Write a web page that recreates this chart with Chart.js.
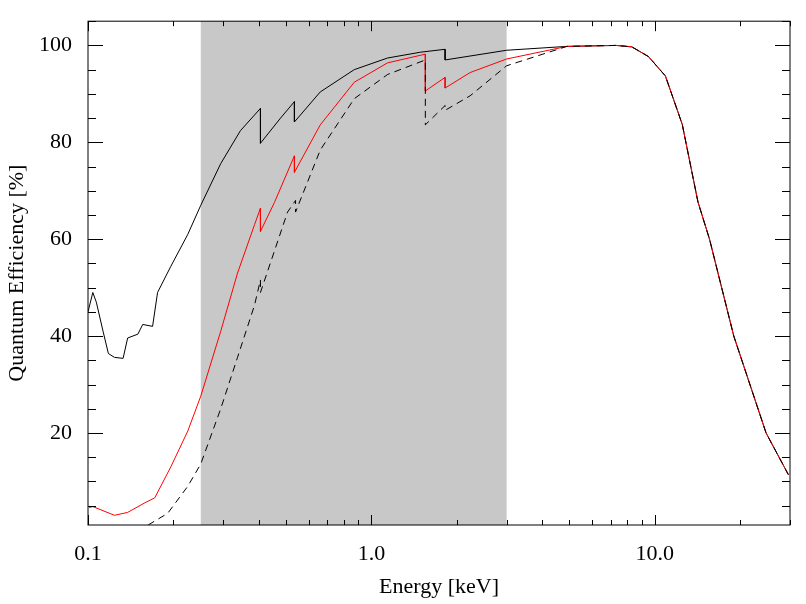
<!DOCTYPE html>
<html>
<head>
<meta charset="utf-8">
<script src="https://cdn.jsdelivr.net/npm/chart.js@4.4.1/dist/chart.umd.min.js"></script>
<style>body{margin:0;background:#fff}</style>
</head>
<body>
<canvas id="qe" width="806" height="604"></canvas>
<script>
// energies in keV, efficiencies in %
const tailE = [4.9, 7.3, 8.3, 9.5, 10.9, 12.5, 14.2, 15.6, 19.0, 24.7, 29.6];
const tailQ = [99.8, 100, 99.7, 97.7, 93.7, 83.7, 67.7, 60, 40, 20, 11.4];

const blackE = [0.1, 0.104, 0.107, 0.113, 0.118, 0.124, 0.133, 0.138, 0.15, 0.156, 0.169, 0.176, 0.196, 0.225, 0.25, 0.294, 0.345, 0.406, 0.406, 0.478, 0.535, 0.535, 0.66, 0.87, 1.14, 1.49, 1.82, 1.82, 3.0];
const blackQ = [45, 49, 47, 41, 36.4, 35.6, 35.4, 39.6, 40.4, 42.4, 42, 49, 54.4, 61, 67, 75.6, 82.4, 87, 79.8, 85, 88.4, 84.2, 90.4, 95, 97.4, 98.6, 99.2, 97, 99];

const redE = [0.101, 0.104, 0.124, 0.138, 0.159, 0.172, 0.196, 0.225, 0.25, 0.294, 0.337, 0.387, 0.406, 0.406, 0.455, 0.535, 0.535, 0.66, 0.87, 1.14, 1.55, 1.55, 1.82, 1.82, 2.23, 3.0];
const redQ = [4.6, 4.8, 3.0, 3.6, 5.6, 6.6, 13, 20.4, 27.6, 41, 53, 63, 66.4, 61.6, 67.6, 77.2, 73.8, 83.6, 92.4, 96.4, 98.2, 90.6, 93.4, 91.2, 94.4, 97.2];

const dashE = [0.163, 0.191, 0.225, 0.25, 0.294, 0.337, 0.387, 0.406, 0.406, 0.506, 0.54, 0.54, 0.66, 0.87, 1.14, 1.55, 1.55, 1.82, 1.82, 2.23, 3.0];
const dashQ = [1, 3.4, 9, 13.6, 25, 35.6, 46.4, 51.6, 49, 65.6, 68, 65.6, 78.4, 89, 94, 97, 83.6, 87.6, 86.6, 89.6, 95.8];

const bandE = [0.25, 3.0];
const xMajor = [0.1, 1, 10];
const xLabels = ['0.1', '1.0', '10.0'];
const yLabels = [20, 40, 60, 80, 100];

function pts(es, qs) {
    return es.map((e, i) => ({ x: e, y: qs[i] }));
}

const font = { family: 'Liberation Serif', size: 22 };

// gray band behind the curves
const bandPlugin = {
    id: 'band',
    beforeDatasetsDraw(chart) {
        const { ctx, chartArea: a, scales: { x } } = chart;
        const x0 = x.getPixelForValue(bandE[0]);
        const x1 = x.getPixelForValue(bandE[1]);
        ctx.save();
        ctx.fillStyle = '#c8c8c8';
        ctx.fillRect(x0, a.top, x1 - x0, a.bottom - a.top);
        ctx.restore();
    }
};

// IDL-style frame with inward ticks on all sides
const framePlugin = {
    id: 'frame',
    afterDraw(chart) {
        const { ctx, chartArea: a, scales: { x, y } } = chart;
        ctx.save();
        ctx.strokeStyle = '#000';
        ctx.lineWidth = 1;
        ctx.strokeRect(a.left, a.top, a.right - a.left, a.bottom - a.top);
        ctx.beginPath();
        x.ticks.forEach(t => {
            const px = Math.round(x.getPixelForValue(t.value)) + 0.5;
            const len = xMajor.includes(t.value) ? 10 : 5;
            ctx.moveTo(px, a.bottom); ctx.lineTo(px, a.bottom - len);
            ctx.moveTo(px, a.top); ctx.lineTo(px, a.top + len);
        });
        y.ticks.forEach(t => {
            const py = Math.round(y.getPixelForValue(t.value)) + 0.5;
            const len = yLabels.includes(t.value) ? 15 : 8;
            ctx.moveTo(a.left, py); ctx.lineTo(a.left + len, py);
            ctx.moveTo(a.right, py); ctx.lineTo(a.right - len, py);
        });
        ctx.stroke();
        ctx.restore();
    }
};

new Chart(document.getElementById('qe'), {
    type: 'line',
    data: {
        datasets: [
            { data: pts(dashE.concat(tailE), dashQ.concat(tailQ)), borderColor: '#000', borderWidth: 1, borderDash: [7, 5] },
            { data: pts(redE.concat(tailE), redQ.concat(tailQ)), borderColor: '#ff0000', borderWidth: 1 },
            { data: pts(blackE.concat(tailE), blackQ.concat(tailQ)), borderColor: '#000', borderWidth: 1 }
        ]
    },
    options: {
        responsive: false,
        animation: false,
        layout: { padding: { top: 5, right: 16, left: 0, bottom: 0 } },
        plugins: { legend: { display: false }, tooltip: { enabled: false } },
        elements: { point: { radius: 0 }, line: { tension: 0 } },
        scales: {
            x: {
                type: 'logarithmic',
                min: 0.1,
                max: 30,
                afterBuildTicks(scale) {
                    const v = [];
                    [0.1, 1, 10].forEach(d => { for (let k = 1; k < 10; k++) if (d * k <= 30) v.push(+(d * k).toFixed(2)); });
                    scale.ticks = v.map(value => ({ value }));
                },
                afterFit(scale) { scale.height = 79; },
                grid: { display: false },
                border: { display: false },
                ticks: {
                    autoSkip: false,
                    maxRotation: 0,
                    padding: 8,
                    color: '#000',
                    font,
                    callback: v => { const i = xMajor.indexOf(v); return i >= 0 ? xLabels[i] : ''; }
                },
                title: { display: true, text: 'Energy [keV]', color: '#000', font, padding: { top: 2 } }
            },
            y: {
                min: 1,
                max: 105,
                afterBuildTicks(scale) {
                    const v = [];
                    for (let k = 5; k <= 105; k += 5) v.push(k);
                    scale.ticks = v.map(value => ({ value }));
                },
                afterFit(scale) { scale.width = 88; },
                grid: { display: false },
                border: { display: false },
                ticks: {
                    autoSkip: false,
                    padding: 8,
                    color: '#000',
                    font,
                    callback: v => yLabels.includes(v) ? String(v) : ''
                },
                title: { display: true, text: 'Quantum Efficiency [%]', color: '#000', font, padding: { bottom: 4 } }
            }
        }
    },
    plugins: [bandPlugin, framePlugin]
});
</script>
</body>
</html>
